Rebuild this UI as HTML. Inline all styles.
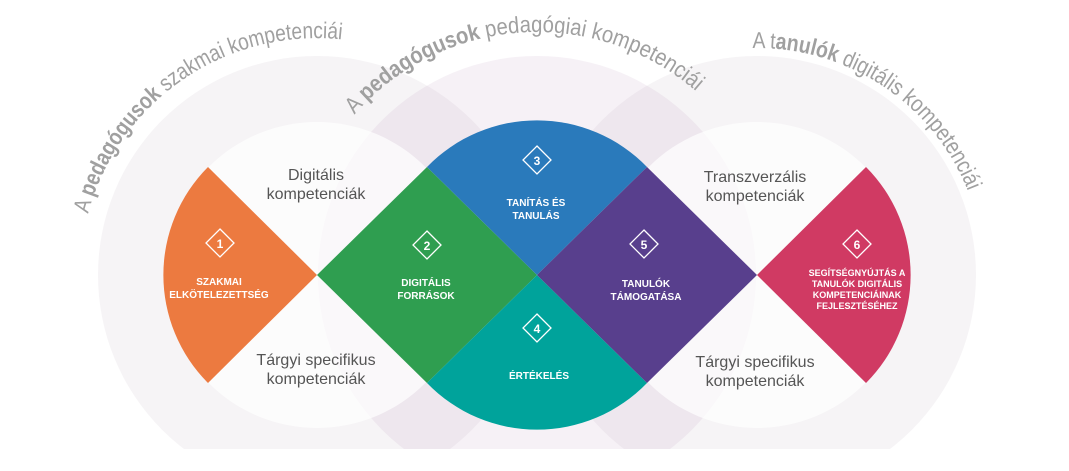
<!DOCTYPE html>
<html><head><meta charset="utf-8"><style>
html,body{margin:0;padding:0;background:#fff;width:1069px;height:471px;overflow:hidden}
svg{display:block}
.g{font-family:"Liberation Sans",sans-serif;fill:#555;font-size:16px;text-anchor:middle}
.w{font-family:"Liberation Sans",sans-serif;fill:#fff;font-size:10px;font-weight:bold;text-anchor:middle}
.arc{font-family:"Liberation Sans",sans-serif;fill:#a0a0a0;font-size:23px}
</style></head><body>
<svg width="1069" height="471" viewBox="0 0 1069 471" xmlns="http://www.w3.org/2000/svg">
<defs>
<clipPath id="cut"><rect x="0" y="0" width="1069" height="449"/></clipPath>
<path id="p1" d="M80,275 A237,237 0 0 1 554,275"/>
<path id="p2" d="M294,275 A243,243 0 0 1 780,275"/>
<path id="p3" d="M530,275 A227,227 0 0 1 984,275"/>
</defs>
<g clip-path="url(#cut)">
<circle cx="317" cy="275" r="219" fill="#b8a8bb" fill-opacity="0.13"/>
<circle cx="537" cy="275" r="219" fill="#c09ac0" fill-opacity="0.14"/>
<circle cx="757" cy="275" r="219" fill="#b8a8bb" fill-opacity="0.13"/>
<circle cx="317" cy="275" r="153" fill="#fff" fill-opacity="0.7"/>
<circle cx="537" cy="275" r="153" fill="#fff" fill-opacity="0.4"/>
<circle cx="757" cy="275" r="153" fill="#fff" fill-opacity="0.7"/>
</g>
<path d="M317,275 L208,167 A153,153 0 0 0 208,383 Z" fill="#ec7a40"/>
<path d="M317,275 L427,167 L537,275 L427,383 Z" fill="#2f9e50"/>
<path d="M537,275 L427,167 A153,153 0 0 1 647,167 Z" fill="#2a7abb"/>
<path d="M537,275 L647,383 A153,153 0 0 1 427,383 Z" fill="#00a39b"/>
<path d="M537,275 L647,167 L757,275 L647,383 Z" fill="#583f8d"/>
<path d="M757,275 L866,167 A153,153 0 0 1 866,383 Z" fill="#d03a63"/>
<g fill="none" stroke="#fff" stroke-width="1.3">
<path d="M220,229 L234,243 L220,257 L206,243 Z"/>
<path d="M427,231 L441,245 L427,259 L413,245 Z"/>
<path d="M537,146 L551,160 L537,174 L523,160 Z"/>
<path d="M537,314 L551,328 L537,342 L523,328 Z"/>
<path d="M644,230 L658,244 L644,258 L630,244 Z"/>
<path d="M857,230 L871,244 L857,258 L843,244 Z"/>
</g>
<g class="w" style="font-size:12px">
<text x="220" y="248">1</text><text x="427" y="250">2</text><text x="537" y="165">3</text>
<text x="537" y="333">4</text><text x="644" y="249">5</text><text x="857" y="249">6</text>
</g>
<g class="w">
<text x="219" y="285">SZAKMAI</text><text x="219" y="298">ELKÖTELEZETTSÉG</text>
<text x="426" y="286">DIGITÁLIS</text><text x="426" y="299">FORRÁSOK</text>
<text x="536" y="206">TANÍTÁS ÉS</text><text x="536" y="219">TANULÁS</text>
<text x="539" y="379">ÉRTÉKELÉS</text>
<text x="646" y="287">TANULÓK</text><text x="646" y="300">TÁMOGATÁSA</text>
<g style="font-size:9px"><text x="857" y="276">SEGÍTSÉGNYÚJTÁS A</text><text x="857" y="287">TANULÓK DIGITÁLIS</text><text x="857" y="298">KOMPETENCIÁINAK</text><text x="857" y="309">FEJLESZTÉSÉHEZ</text></g>
</g>
<g class="g">
<text x="316" y="180">Digitális</text><text x="316" y="199">kompetenciák</text>
<text x="316" y="365">Tárgyi specifikus</text><text x="316" y="384">kompetenciák</text>
<text x="755" y="182">Transzverzális</text><text x="755" y="201">kompetenciák</text>
<text x="755" y="367">Tárgyi specifikus</text><text x="755" y="386">kompetenciák</text>
</g>
<text class="arc"><textPath href="#p1" startOffset="62" textLength="335" lengthAdjust="spacingAndGlyphs">A <tspan font-weight="bold">pedagógusok</tspan> szakmai kompetenciái</textPath></text>
<text class="arc"><textPath href="#p2" startOffset="175" textLength="380" lengthAdjust="spacingAndGlyphs">A <tspan font-weight="bold">pedagógusok</tspan> pedagógiai kompetenciái</textPath></text>
<text class="arc"><textPath href="#p3" startOffset="352" textLength="275" lengthAdjust="spacingAndGlyphs">A t<tspan font-weight="bold">anulók</tspan> digitális kompetenciái</textPath></text>
</svg>
</body></html>
